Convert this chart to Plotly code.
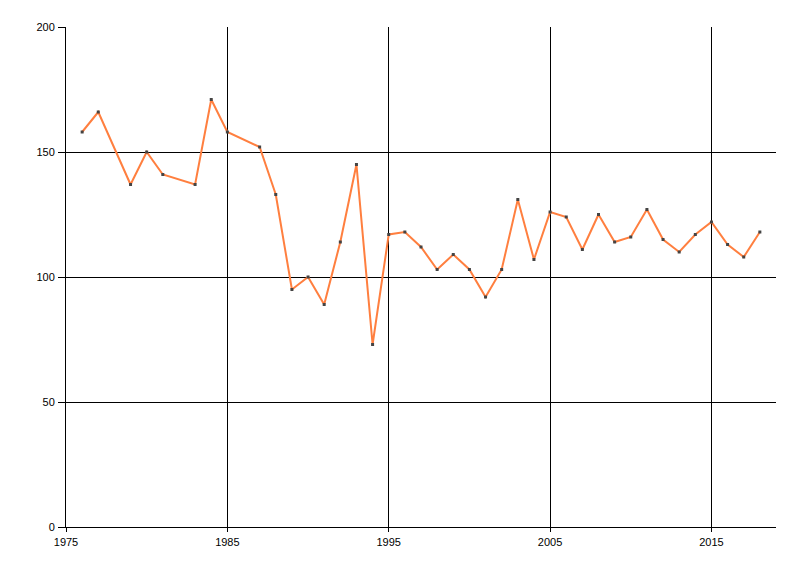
import plotly.graph_objects as go

years = [1976, 1977, 1979, 1980, 1981, 1983, 1984, 1985, 1987, 1988, 1989, 1990,
         1991, 1992, 1993, 1994, 1995, 1996, 1997, 1998, 1999, 2000, 2001, 2002,
         2003, 2004, 2005, 2006, 2007, 2008, 2009, 2010, 2011, 2012, 2013, 2014,
         2015, 2016, 2017, 2018]
values = [158, 166, 137, 150, 141, 137, 171, 158, 152, 133, 95, 100,
          89, 114, 145, 73, 117, 118, 112, 103, 109, 103, 92, 103,
          131, 107, 126, 124, 111, 125, 114, 116, 127, 115, 110, 117,
          122, 113, 108, 118]
x_ticks = [1975, 1985, 1995, 2005, 2015]
y_ticks = [0, 50, 100, 150, 200]

fig = go.Figure()
fig.add_trace(go.Scatter(
    x=years, y=values, mode="lines+markers",
    line=dict(color="#ff7f3f", width=2),
    marker=dict(color="#444444", size=3, symbol="square"),
    hoverinfo="x+y", showlegend=False,
))

axis_common = dict(
    showgrid=True, gridcolor="black", gridwidth=1,
    showline=True, linecolor="black", linewidth=1,
    ticks="outside", tickcolor="black", tickwidth=1,
    zeroline=False,
    tickfont=dict(family="Liberation Sans, Arial", size=11, color="black"),
)

# the page body adds an 8px offset at top-left, so the figure size is reduced
fig.update_layout(
    width=792, height=568,
    margin=dict(l=58, r=24, t=19, b=49),
    paper_bgcolor="white", plot_bgcolor="white",
    xaxis=dict(range=[1975, 2019], tickvals=x_ticks, ticktext=[str(t) for t in x_ticks],
               ticklen=4, ticklabelstandoff=1, **axis_common),
    yaxis=dict(range=[0, 200], tickvals=y_ticks, ticktext=[str(t) for t in y_ticks],
               ticklen=7, ticklabelstandoff=1, **axis_common),
)

fig.write_html("out.html")
